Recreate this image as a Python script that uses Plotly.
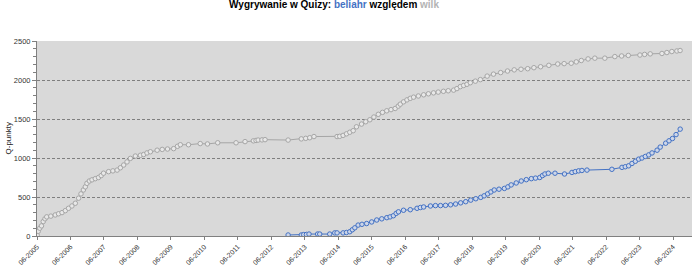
import plotly.graph_objects as go

wilk_dates = ["2005-06-03","2005-06-14","2005-07-01","2005-07-20","2005-08-08","2005-08-27","2005-09-15","2005-10-30",
"2005-12-17","2006-01-22","2006-03-01","2006-04-06","2006-05-11","2006-06-17","2006-07-24","2006-08-29","2006-09-24",
"2006-10-20","2006-11-10","2006-11-28","2006-12-24","2007-01-22","2007-02-27","2007-04-03","2007-05-03","2007-05-28",
"2007-07-22","2007-09-07","2007-10-23","2007-11-28","2008-01-03","2008-02-08","2008-03-16","2008-05-09","2008-07-03",
"2008-08-08","2008-09-13","2008-10-20","2009-01-02","2009-02-26","2009-04-25","2009-07-01","2009-08-12","2009-09-12",
"2009-12-10","2010-04-17","2010-07-05","2010-10-25","2011-05-13","2011-08-19","2011-11-18","2011-12-17","2012-01-09",
"2012-02-20","2012-03-24","2012-12-01","2013-04-24","2013-06-11","2013-07-25","2013-09-09","2014-05-19","2014-06-17",
"2014-07-24","2014-08-30","2014-10-05","2014-11-11","2014-12-17","2015-02-10","2015-03-28","2015-05-12","2015-06-25",
"2015-08-12","2015-09-27","2015-11-12","2015-12-29","2016-02-12","2016-03-17","2016-04-08","2016-05-14","2016-06-20",
"2016-07-26","2016-08-31","2016-10-22","2016-12-19","2017-02-09","2017-04-06","2017-05-27","2017-07-23","2017-09-13",
"2017-11-11","2017-12-17","2018-01-23","2018-02-28","2018-04-06","2018-05-12","2018-07-06","2018-08-30","2018-11-12",
"2019-01-20","2019-04-08","2019-06-22","2019-09-03","2019-11-16","2020-01-28","2020-04-05","2020-06-17","2020-09-15",
"2020-12-21","2021-03-01","2021-05-17","2021-07-11","2021-09-04","2021-11-17","2022-01-30","2022-05-19","2022-09-05",
"2022-11-18","2023-01-30","2023-06-06","2023-07-27","2023-09-26","2024-02-01","2024-03-26","2024-05-19","2024-07-13",
"2024-08-17"]
wilk_points = [10,60,100,130,185,220,245,255,270,285,300,325,355,385,420,485,540,590,630,675,705,720,735,750,775,805,
825,835,845,875,910,950,995,1025,1035,1045,1065,1080,1100,1110,1115,1120,1150,1170,1170,1185,1180,1195,1195,1210,
1220,1225,1230,1232,1235,1230,1245,1252,1260,1275,1275,1278,1290,1310,1330,1350,1400,1435,1465,1490,1525,1560,1585,
1605,1620,1635,1665,1690,1720,1745,1765,1780,1795,1810,1823,1835,1845,1855,1862,1870,1890,1915,1930,1945,1965,1985,
2005,2050,2075,2095,2115,2130,2138,2145,2158,2170,2188,2205,2210,2215,2232,2250,2270,2280,2280,2300,2308,2315,2320,
2328,2335,2340,2352,2365,2372,2378]

beliahr_dates = ["2012-12-01","2013-04-24","2013-05-20","2013-06-19","2013-07-17","2013-10-19","2013-11-11","2014-02-28",
"2014-04-24","2014-05-19","2014-07-24","2014-08-30","2014-10-05","2014-11-02","2014-11-29","2015-01-04","2015-02-15",
"2015-04-07","2015-06-01","2015-07-26","2015-09-19","2015-11-13","2015-12-19","2016-01-24","2016-02-23","2016-03-19",
"2016-05-13","2016-07-26","2016-10-08","2016-11-13","2016-12-19","2017-03-03","2017-04-27","2017-06-21","2017-08-15",
"2017-10-09","2017-12-03","2018-01-27","2018-03-23","2018-05-17","2018-07-11","2018-09-03","2018-10-10","2018-11-17",
"2018-12-23","2019-01-28","2019-03-21","2019-05-19","2019-06-26","2019-08-01","2019-09-25","2019-11-19","2020-01-13",
"2020-03-08","2020-04-22","2020-06-08","2020-07-08","2020-08-03","2020-09-09","2020-11-21","2021-03-05","2021-05-25",
"2021-06-30","2021-08-06","2021-09-11","2021-11-05","2022-08-04","2022-11-22","2022-12-28","2023-02-03","2023-03-11",
"2023-04-17","2023-05-23","2023-06-28","2023-08-04","2023-09-10","2023-10-16","2023-12-10","2024-01-13","2024-03-13",
"2024-04-18","2024-05-26","2024-07-04","2024-08-18"]
beliahr_points = [13,13,18,20,25,25,25,25,40,40,40,45,55,80,105,140,150,160,180,205,220,235,245,260,290,310,330,337,
355,365,372,385,390,390,393,400,410,425,440,460,478,495,515,540,565,590,600,610,630,655,680,705,722,735,742,750,775,
795,805,805,795,815,825,835,840,845,855,880,888,900,930,958,985,1000,1020,1040,1065,1100,1140,1190,1220,1250,1300,1370]

tick_dates = ["%d-06-01" % y for y in range(2005, 2025)]
tick_labels = ["06-%d" % y for y in range(2005, 2025)]
y_ticks = [0, 500, 1000, 1500, 2000, 2500]

GREY = "#a6a6a6"
BLUE = "#4472c4"
FONT = "Liberation Sans, Arial, sans-serif"

fig = go.Figure()
fig.add_trace(go.Scatter(x=wilk_dates, y=wilk_points, mode="lines+markers", name="wilk",
                         line=dict(color=GREY, width=1),
                         marker=dict(symbol="circle", size=4.5, color="#e8e8e8", line=dict(color=GREY, width=1))))
fig.add_trace(go.Scatter(x=beliahr_dates, y=beliahr_points, mode="lines+markers", name="beliahr",
                         line=dict(color=BLUE, width=1),
                         marker=dict(symbol="circle", size=4.5, color="#cdd6e8", line=dict(color=BLUE, width=1))))

fig.update_layout(
    width=693, height=266,
    margin=dict(l=37, r=1, t=41, b=30),
    paper_bgcolor="white", plot_bgcolor="#d9d9d9",
    showlegend=False,
    font=dict(family=FONT, size=7, color="#333333"),
    title=dict(text="Wygrywanie w Quizy: <span style='color:#4472c4'>beliahr</span> względem <span style='color:#b3b3b3'>wilk</span>",
               font=dict(family=FONT, size=10, color="#000000", weight="bold"),
               xref="container", x=0.482, xanchor="center",
               yref="container", y=0.995, yanchor="top"),
    xaxis=dict(type="date", range=["2005-06-01", "2024-12-25"],
               tickmode="array", tickvals=tick_dates, ticktext=tick_labels, tickangle=-45,
               ticks="outside", ticklen=3, tickcolor="#808080",
               showline=True, linecolor="#808080", linewidth=1,
               showgrid=False, zeroline=False, automargin=False,
               tickfont=dict(family=FONT, size=7, color="#333333")),
    yaxis=dict(range=[0, 2500], tickmode="array", tickvals=y_ticks,
               ticks="outside", ticklen=4, tickcolor="#808080",
               minor=dict(dtick=100, ticks="outside", ticklen=3, tickcolor="#808080", showgrid=False),
               showline=True, linecolor="#808080", linewidth=1,
               showgrid=True, gridcolor="#7f7f7f", griddash="3px,2px", gridwidth=1,
               zeroline=False, automargin=False,
               tickfont=dict(family=FONT, size=7.5, color="#333333")),
)
fig.add_annotation(text="Q-punkty", xref="paper", yref="paper", x=-29/655, y=0.5,
                   textangle=-90, showarrow=False, xanchor="center", yanchor="middle",
                   font=dict(family=FONT, size=8, color="#222222"))

fig.write_html("out.html")
